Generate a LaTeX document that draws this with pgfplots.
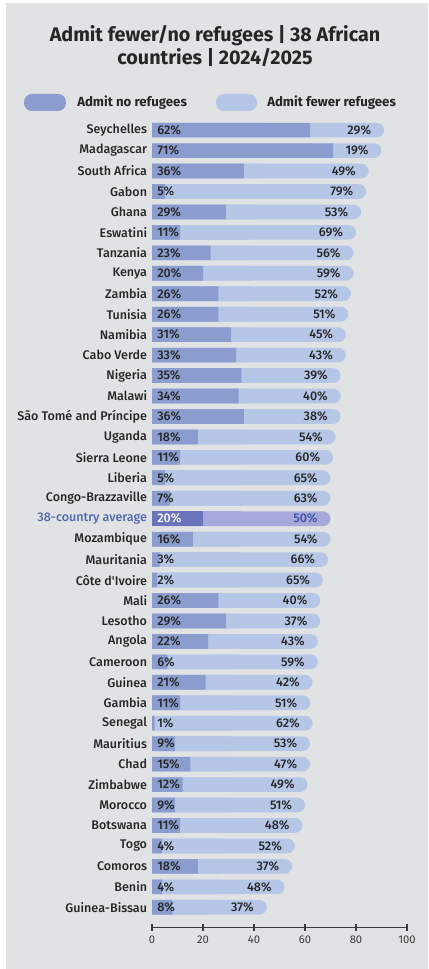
\documentclass[border=0pt]{standalone}
\usepackage{pgfplots}
\pgfplotsset{compat=1.18}
\usepackage{pgfplotstable}
\usepackage{fontspec}
\setmainfont{Fira Sans}
\newfontfamily\medfont{Fira Sans}[UprightFont={* Medium}, BoldFont={* Bold}]

\definecolor{bg}{HTML}{E1E2E4}
\definecolor{nobar}{HTML}{8A9DCE}
\definecolor{fewbar}{HTML}{B5C6E7}
\definecolor{avgno}{HTML}{6B74BA}
\definecolor{avgfew}{HTML}{A6A9D9}
\definecolor{avgtxt}{HTML}{5469AE}
\definecolor{avgnum}{HTML}{3D55A6}
\definecolor{txt}{HTML}{262626}
\definecolor{axisc}{HTML}{3A3A3A}

% y = row (38 = top), no = admit no refugees, fewer = admit fewer refugees
\pgfplotstableread{
y no fewer
38 62 29
37 71 19
36 36 49
35 5 79
34 29 53
33 11 69
32 23 56
31 20 59
30 26 52
29 26 51
28 31 45
27 33 43
26 35 39
25 34 40
24 36 38
23 18 54
22 11 60
21 5 65
20 7 63
18 16 54
17 3 66
16 2 65
15 26 40
14 29 37
13 22 43
12 6 59
11 21 42
10 11 51
9 1 62
8 9 53
7 15 47
6 12 49
5 9 51
4 11 48
3 4 52
2 18 37
1 4 48
0 8 37
}\countries

\pgfplotstableread{
y no fewer
19 20 50
}\average

\newcommand\lblfont{\medfont\fontsize{9.4}{11}\selectfont}

\begin{document}
\begin{tikzpicture}
\fill[white] (0,0) rectangle (321pt,-726.75pt);
\fill[bg] (4.5pt,-2.25pt) rectangle (321pt,-726.75pt);

\node[font=\bfseries\fontsize{14.8}{17}\selectfont, text=txt] at (161.25pt,-27pt) {Admit fewer/no refugees | 38 African};
\node[font=\bfseries\fontsize{14.8}{17}\selectfont, text=txt] at (161.25pt,-43.5pt) {countries | 2024/2025};

\fill[nobar, rounded corners=6pt] (18pt,-70.5pt) rectangle (49.5pt,-83.25pt);
\node[anchor=west, font=\bfseries\fontsize{9.9}{11}\selectfont, text=txt, inner sep=0pt] at (57.75pt,-76.9pt) {Admit no refugees};
\fill[fewbar, rounded corners=6pt] (162pt,-70.5pt) rectangle (192.75pt,-83.25pt);
\node[anchor=west, font=\bfseries\fontsize{9.9}{11}\selectfont, text=txt, inner sep=0pt] at (200.25pt,-76.9pt) {Admit fewer refugees};

\begin{axis}[
  at={(114pt,-695.8pt)}, anchor=south west,
  scale only axis, width=191.25pt, height=605.85pt,
  xmin=0, xmax=100, ymin=-1, ymax=38.5,
  axis x line*=bottom, axis y line*=left,
  x axis line style={-, color=axisc, line width=0.8pt},
  y axis line style={draw=none},
  xtick={0,20,...,100},
  xtick style={color=axisc, line width=0.8pt},
  tick align=center, major tick length=5pt,
  ytick={0,...,38}, ytick style={draw=none},
  yticklabels={Guinea-Bissau, Benin, Comoros, Togo, Botswana, Morocco, Zimbabwe, Chad, Mauritius, Senegal, Gambia, Guinea, Cameroon, Angola, Lesotho, Mali, Côte d'Ivoire, Mauritania, Mozambique, \textcolor{avgtxt}{38-country average}, Congo-Brazzaville, Liberia, Sierra Leone, Uganda, São Tomé and Príncipe, Malawi, Nigeria, Cabo Verde, Namibia, Tunisia, Zambia, Kenya, Tanzania, Eswatini, Ghana, Gabon, South Africa, Madagascar, Seychelles},
  yticklabel style={font=\lblfont, text=txt, inner sep=0pt, xshift=1.5pt},
  xticklabel style={font=\fontsize{8.4}{10}\selectfont, text=axisc},
  /pgf/number format/assume math mode=true,
  clip=false,
  xbar, bar width=11pt, bar shift=0pt,
]
% light bars: full length with rounded end, then square left half
\addplot[xbar, draw=none, fill=fewbar, rounded corners=5.5pt] table[x expr=\thisrow{no}+\thisrow{fewer}, y=y]{\countries};
\addplot[xbar, draw=none, fill=fewbar] table[x expr=(\thisrow{no}+\thisrow{fewer})/2, y=y]{\countries};
\addplot[xbar, draw=none, fill=nobar] table[x=no, y=y]{\countries};
% average row
\addplot[xbar, draw=none, fill=avgfew, rounded corners=5.5pt] table[x expr=\thisrow{no}+\thisrow{fewer}, y=y]{\average};
\addplot[xbar, draw=none, fill=avgfew] table[x expr=(\thisrow{no}+\thisrow{fewer})/2, y=y]{\average};
\addplot[xbar, draw=none, fill=avgno] table[x=no, y=y]{\average};
% value labels
\addplot[draw=none, mark=none, xbar=false,
  nodes near coords={\pgfmathprintnumber{\pgfplotspointmeta}\%}, point meta=explicit,
  every node near coord/.append style={anchor=west, xshift=3.8pt, inner sep=0pt, font=\lblfont, text=txt}]
  table[x expr=0, y=y, meta=no]{\countries};
\addplot[draw=none, mark=none, xbar=false,
  nodes near coords={\pgfmathprintnumber{\pgfplotspointmeta}\%}, point meta=explicit,
  every node near coord/.append style={anchor=east, xshift=-9.5pt, inner sep=0pt, font=\lblfont, text=txt}]
  table[x expr=\thisrow{no}+\thisrow{fewer}, y=y, meta=fewer]{\countries};
\addplot[draw=none, mark=none, xbar=false,
  nodes near coords={\pgfmathprintnumber{\pgfplotspointmeta}\%}, point meta=explicit,
  every node near coord/.append style={anchor=west, xshift=3.8pt, inner sep=0pt, font=\lblfont, text=white}]
  table[x expr=0, y=y, meta=no]{\average};
\addplot[draw=none, mark=none, xbar=false,
  nodes near coords={\pgfmathprintnumber{\pgfplotspointmeta}\%}, point meta=explicit,
  every node near coord/.append style={anchor=east, xshift=-9.5pt, inner sep=0pt, font=\lblfont, text=avgnum}]
  table[x expr=\thisrow{no}+\thisrow{fewer}, y=y, meta=fewer]{\average};
\end{axis}
\end{tikzpicture}
\end{document}
